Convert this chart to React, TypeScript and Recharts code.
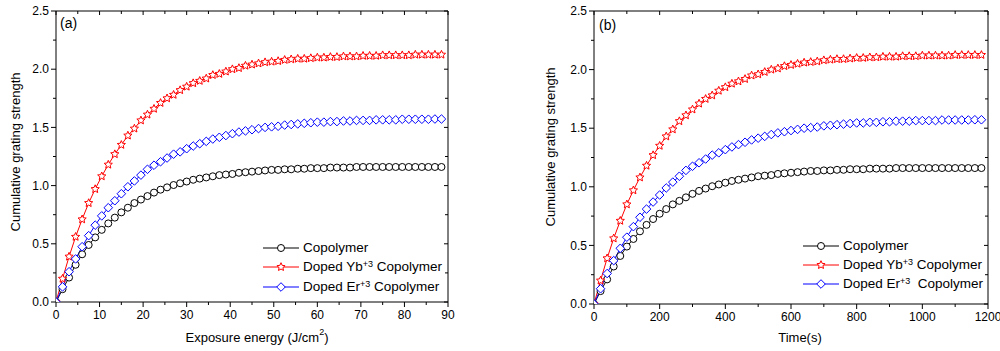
import React from 'react';
import { LineChart, Line, XAxis, YAxis } from 'recharts';

// x values: exposure energy (J/cm2) and time (s)
const energy = [
  0, 1.5, 3, 4.5, 6, 7.5, 9, 10.5, 12, 13.5, 15, 16.5, 18, 19.5, 21, 22.5, 24, 25.5, 27, 28.5,
  30, 31.5, 33, 34.5, 36, 37.5, 39, 40.5, 42, 43.5, 45, 46.5, 48, 49.5, 51, 52.5, 54, 55.5, 57, 58.5,
  60, 61.5, 63, 64.5, 66, 67.5, 69, 70.5, 72, 73.5, 75, 76.5, 78, 79.5, 81, 82.5, 84, 85.5, 87, 88.5,
];
const time = [
  0, 20, 40, 60, 80, 100, 120, 140, 160, 180, 200, 220, 240, 260, 280, 300, 320, 340, 360, 380,
  400, 420, 440, 460, 480, 500, 520, 540, 560, 580, 600, 620, 640, 660, 680, 700, 720, 740, 760, 780,
  800, 820, 840, 860, 880, 900, 920, 940, 960, 980, 1000, 1020, 1040, 1060, 1080, 1100, 1120, 1140, 1160, 1180,
];

const copolymer = [
  0, 0.11, 0.21, 0.32, 0.41, 0.49, 0.555, 0.62, 0.675, 0.725, 0.77, 0.81, 0.85, 0.88, 0.91, 0.94, 0.965, 0.985, 1.005, 1.02,
  1.035, 1.05, 1.06, 1.07, 1.08, 1.09, 1.095, 1.10, 1.11, 1.115, 1.12, 1.125, 1.13, 1.135, 1.135, 1.14, 1.14, 1.145, 1.145, 1.15,
  1.15, 1.15, 1.155, 1.155, 1.155, 1.155, 1.16, 1.16, 1.16, 1.16, 1.16, 1.16, 1.16, 1.16, 1.16, 1.16, 1.16, 1.16, 1.16, 1.16,
];
const dopedYb = [
  0, 0.20, 0.39, 0.56, 0.71, 0.85, 0.97, 1.08, 1.18, 1.27, 1.35, 1.43, 1.49, 1.56, 1.61, 1.66, 1.71, 1.75, 1.78, 1.82,
  1.85, 1.88, 1.90, 1.92, 1.95, 1.96, 1.98, 2.00, 2.01, 2.03, 2.04, 2.05, 2.06, 2.065, 2.07, 2.08, 2.085, 2.09, 2.09, 2.095,
  2.10, 2.10, 2.105, 2.105, 2.11, 2.11, 2.11, 2.115, 2.115, 2.115, 2.12, 2.12, 2.12, 2.12, 2.12, 2.125, 2.125, 2.125, 2.125, 2.125,
];
const dopedEr = [
  0, 0.13, 0.26, 0.37, 0.475, 0.57, 0.66, 0.74, 0.81, 0.87, 0.93, 0.99, 1.04, 1.09, 1.14, 1.175, 1.205, 1.237, 1.27, 1.29,
  1.317, 1.34, 1.36, 1.38, 1.40, 1.415, 1.43, 1.446, 1.46, 1.47, 1.48, 1.49, 1.50, 1.505, 1.51, 1.52, 1.525, 1.53, 1.535, 1.54,
  1.545, 1.545, 1.55, 1.55, 1.555, 1.555, 1.56, 1.56, 1.56, 1.565, 1.565, 1.565, 1.565, 1.57, 1.57, 1.57, 1.57, 1.57, 1.572, 1.572,
];

const energyTicks = [0, 5, 10, 15, 20, 25, 30, 35, 40, 45, 50, 55, 60, 65, 70, 75, 80, 85, 90];
const timeTicks = [0, 100, 200, 300, 400, 500, 600, 700, 800, 900, 1000, 1100, 1200];
const yTicks = [0, 0.25, 0.5, 0.75, 1, 1.25, 1.5, 1.75, 2, 2.25, 2.5];

const FONT = '"Liberation Sans", Arial, Helvetica, sans-serif';

const starPoints = (cx: number, cy: number, R: number, r: number) => {
  const pts: string[] = [];
  for (let k = 0; k < 10; k++) {
    const rad = k % 2 === 0 ? R : r;
    const a = -Math.PI / 2 + (k * Math.PI) / 5;
    pts.push(`${cx + rad * Math.cos(a)},${cy + rad * Math.sin(a)}`);
  }
  return pts.join(' ');
};

const CircleMark = ({ cx, cy }: any) => (
  <circle cx={cx} cy={cy} r={3.5} fill="#fff" stroke="#000" strokeWidth={1} />
);
const StarMark = ({ cx, cy }: any) => (
  <polygon points={starPoints(cx, cy, 4.3, 2)} fill="#fff" stroke="#ff0000" strokeWidth={1} />
);
const DiamondMark = ({ cx, cy }: any) => (
  <polygon
    points={`${cx},${cy - 4.3} ${cx + 4.3},${cy} ${cx},${cy + 4.3} ${cx - 4.3},${cy}`}
    fill="#fff"
    stroke="#0000ff"
    strokeWidth={1}
  />
);

const dotFn = (Mark: any) => (p: any) => {
  if (p.cx == null || p.cy == null) return <g key={p.index} />;
  return <Mark key={p.index} cx={p.cx} cy={p.cy} />;
};

const series = [
  { key: 'cop', name: 'Copolymer', color: '#000000', Mark: CircleMark },
  { key: 'yb', name: 'Yb', color: '#ff0000', Mark: StarMark },
  { key: 'er', name: 'Er', color: '#0000ff', Mark: DiamondMark },
];

const isHalf = (v: number) => Math.abs(v * 2 - Math.round(v * 2)) < 1e-6;

interface PanelProps {
  xs: number[];
  xMax: number;
  xTicks: number[];
  labelEvery: number;
  margin: { top: number; left: number; right: number; bottom: number };
}

// axes get a 1px box (a 0-size axis is not drawn), margins are the plot edges minus 1
const Panel: React.FC<PanelProps> = ({ xs, xMax, xTicks, labelEvery, margin }) => {
  const data = xs.map((x, i) => ({ x, cop: copolymer[i], yb: dopedYb[i], er: dopedEr[i] }));

  const bottomTick = (p: any) => {
    const v = p.payload.value;
    const major = v % labelEvery === 0;
    return (
      <g key={`b${v}`}>
        <line x1={p.x} x2={p.x} y1={p.y} y2={p.y + (major ? 5 : 3)} stroke="#000" />
        {major && (
          <text x={p.x} y={p.y + 17} textAnchor="middle" fontSize={12} fontFamily={FONT} fill="#000">
            {v}
          </text>
        )}
      </g>
    );
  };
  const topTick = (p: any) => {
    const v = p.payload.value;
    const major = v % labelEvery === 0;
    return <line key={`t${v}`} x1={p.x} x2={p.x} y1={p.y} y2={p.y + (major ? 4 : 3)} stroke="#000" />;
  };
  const leftTick = (p: any) => {
    const v = p.payload.value;
    const major = isHalf(v);
    return (
      <g key={`l${v}`}>
        <line x1={p.x} x2={p.x - (major ? 5 : 3)} y1={p.y} y2={p.y} stroke="#000" />
        {major && (
          <text x={p.x - 7} y={p.y} dy="0.35em" textAnchor="end" fontSize={12} fontFamily={FONT} fill="#000">
            {v.toFixed(1)}
          </text>
        )}
      </g>
    );
  };
  const rightTick = (p: any) => {
    const v = p.payload.value;
    const major = isHalf(v);
    return <line key={`r${v}`} x1={p.x} x2={p.x - (major ? 4 : 3)} y1={p.y} y2={p.y} stroke="#000" />;
  };

  const common = {
    type: 'number' as const,
    interval: 0 as const,
    tickSize: 0,
    tickMargin: 0,
    tickLine: false,
    axisLine: { stroke: '#000', strokeWidth: 1 },
    allowDataOverflow: true,
  };

  return (
    <LineChart width={500} height={351} data={data} margin={margin}>
      <XAxis {...common} dataKey="x" domain={[0, xMax]} ticks={xTicks} height={1} tick={bottomTick} />
      <XAxis {...common} xAxisId="top" orientation="top" dataKey="x" domain={[0, xMax]} ticks={xTicks} height={1} tick={topTick} />
      <YAxis {...common} domain={[0, 2.5]} ticks={yTicks} width={1} tick={leftTick} />
      <YAxis {...common} yAxisId="right" orientation="right" domain={[0, 2.5]} ticks={yTicks} width={1} tick={rightTick} />
      {series.map((s) => (
        <Line
          key={s.key}
          type="linear"
          dataKey={s.key}
          stroke={s.color}
          strokeWidth={1}
          dot={dotFn(s.Mark)}
          activeDot={false}
          isAnimationActive={false}
        />
      ))}
    </LineChart>
  );
};

const supStyle: React.CSSProperties = { fontSize: 9, verticalAlign: 'top', position: 'relative', top: -3 };

const LegendBox: React.FC<{ left: number; rows: number[]; erGap?: boolean }> = ({ left, rows, erGap }) => {
  const labels = [
    <>Copolymer</>,
    <>
      Doped Yb<sup style={supStyle}>+3</sup> Copolymer
    </>,
    <>
      Doped Er<sup style={supStyle}>+3</sup>
      {erGap ? '\u00a0 ' : ' '}Copolymer
    </>,
  ];
  return (
    <>
      {series.map((s, i) => (
        <div
          key={s.key}
          style={{
            position: 'absolute',
            left,
            top: rows[i] - 9,
            height: 18,
            display: 'flex',
            alignItems: 'center',
            whiteSpace: 'nowrap',
            fontFamily: FONT,
            fontSize: 13.5,
            color: '#000',
          }}
        >
          <svg width={40} height={18} style={{ display: 'block' }}>
            <line x1={0} x2={36} y1={9} y2={9} stroke={s.color} strokeWidth={1} />
            <s.Mark cx={18} cy={9} />
          </svg>
          <span style={{ lineHeight: '18px' }}>{labels[i]}</span>
        </div>
      ))}
    </>
  );
};

const txt: React.CSSProperties = {
  position: 'absolute',
  fontFamily: FONT,
  color: '#000',
  whiteSpace: 'nowrap',
};

export default function App() {
  return (
    <div style={{ position: 'absolute', left: 0, top: 0, width: 1000, height: 351, background: '#fff', overflow: 'hidden' }}>
      <div style={{ position: 'absolute', left: 0, top: 0 }}>
        <Panel xs={energy} xMax={90} xTicks={energyTicks} labelEvery={10} margin={{ top: 10, left: 55, right: 51, bottom: 48 }} />
      </div>
      <div style={{ position: 'absolute', left: 500, top: 0 }}>
        <Panel xs={time} xMax={1200} xTicks={timeTicks} labelEvery={200} margin={{ top: 10, left: 93, right: 11, bottom: 46 }} />
      </div>

      <LegendBox left={263} rows={[248, 267, 287]} />
      <LegendBox left={803} rows={[246, 265, 284]} erGap />

      <div style={{ ...txt, left: 60, top: 15, fontSize: 14 }}>(a)</div>
      <div style={{ ...txt, left: 599, top: 17, fontSize: 14 }}>(b)</div>

      <div style={{ ...txt, left: 15, top: 152, fontSize: 13, transform: 'translate(-50%, -50%) rotate(-90deg)' }}>
        Cumulative grating strength
      </div>
      <div style={{ ...txt, left: 550, top: 147, fontSize: 13, transform: 'translate(-50%, -50%) rotate(-90deg)' }}>
        Cumulative grating strength
      </div>

      <div style={{ ...txt, left: 257, top: 337, fontSize: 13, transform: 'translate(-50%, -50%)' }}>
        Exposure energy (J/cm<sup style={supStyle}>2</sup>)
      </div>
      <div style={{ ...txt, left: 800, top: 337, fontSize: 13, transform: 'translate(-50%, -50%)' }}>Time(s)</div>
    </div>
  );
}
